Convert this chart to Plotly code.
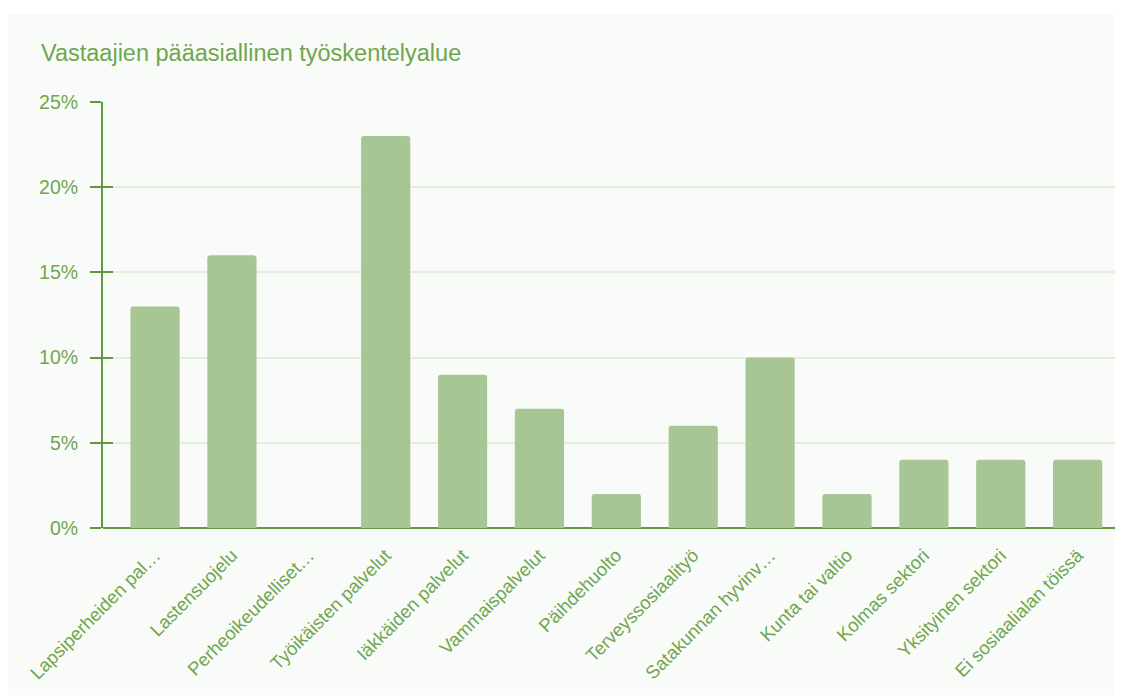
import plotly.graph_objects as go

categories = [
    "Lapsiperheiden pal…", "Lastensuojelu", "Perheoikeudelliset…",
    "Työikäisten palvelut", "Iäkkäiden palvelut", "Vammaispalvelut",
    "Päihdehuolto", "Terveyssosiaalityö", "Satakunnan hyvinv…",
    "Kunta tai valtio", "Kolmas sektori", "Yksityinen sektori",
    "Ei sosiaalialan töissä",
]
values = [13, 16, 0, 23, 9, 7, 2, 6, 10, 2, 4, 4, 4]
y_ticks = [0, 5, 10, 15, 20, 25]
y_labels = ["0%", "5%", "10%", "15%", "20%", "25%"]
title = "Vastaajien pääasiallinen työskentelyalue"

# page body has an 8px margin, so the figure is offset by 8px
OFF = 8
W, H = 1123 - OFF, 695 - OFF
L, R, T, B = 103 - OFF, 0, 102 - OFF, 167
PANEL = "#f9fbf8"
TXT = "#6fa64f"
AX = "#5f9a3f"
BAR = "#a8c594"
GRID = "#e3eedd"
FONT = "Liberation Sans, Arial, sans-serif"

fig = go.Figure()
fig.add_trace(go.Bar(
    x=list(range(len(categories))), y=values,
    marker=dict(color=BAR, line=dict(width=0), cornerradius=3),
    hoverinfo="skip",
))

pw = W - L - R
ph = H - T - B
# white strip above the panel (panel starts 14px from top of window)
fig.add_shape(type="rect", xref="paper", yref="paper",
              x0=-L / pw, x1=1 + R / pw, y0=1 + (T - (14 - OFF)) / ph, y1=1 + T / ph,
              fillcolor="white", line=dict(width=0), layer="below")

fig.update_layout(
    width=W, height=H,
    margin=dict(l=L, r=R, t=T, b=B, pad=0),
    paper_bgcolor=PANEL, plot_bgcolor=PANEL,
    showlegend=False,
    bargap=0.36,
    font=dict(family=FONT, color=TXT),
    title=dict(text=title, x=(41 - OFF) / W, xref="container", xanchor="left",
               y=1 - (53 - OFF) / H, yref="container", yanchor="middle",
               font=dict(size=23.5, color=TXT, family=FONT)),
    xaxis=dict(
        range=[-0.677, 12.59],
        tickmode="array", tickvals=list(range(len(categories))), ticktext=categories,
        tickangle=-45, tickfont=dict(size=18.5, color=TXT),
        ticklabelstandoff=12,
        showgrid=False, showline=False, zeroline=False, ticks="",
    ),
    yaxis=dict(
        range=[0, 25], tickmode="array", tickvals=y_ticks, ticktext=y_labels,
        tickfont=dict(size=19.5, color=TXT),
        showgrid=True, gridcolor=GRID, gridwidth=2,
        showline=True, linecolor=AX, linewidth=2,
        ticks="outside", ticklen=11, tickwidth=2, tickcolor=AX,
        ticklabelstandoff=8,
        zeroline=True, zerolinecolor=AX, zerolinewidth=2,
    ),
    yaxis2=dict(
        range=[0, 25], overlaying="y", side="left", tickmode="array",
        tickvals=y_ticks, showticklabels=False, showgrid=False,
        ticks="inside", ticklen=10, tickwidth=2, tickcolor=AX,
        showline=False, zeroline=False,
    ),
)
fig.add_trace(go.Scatter(x=[0], y=[0], yaxis="y2", mode="markers",
                         marker=dict(opacity=0), hoverinfo="skip"))

fig.write_html("out.html")
